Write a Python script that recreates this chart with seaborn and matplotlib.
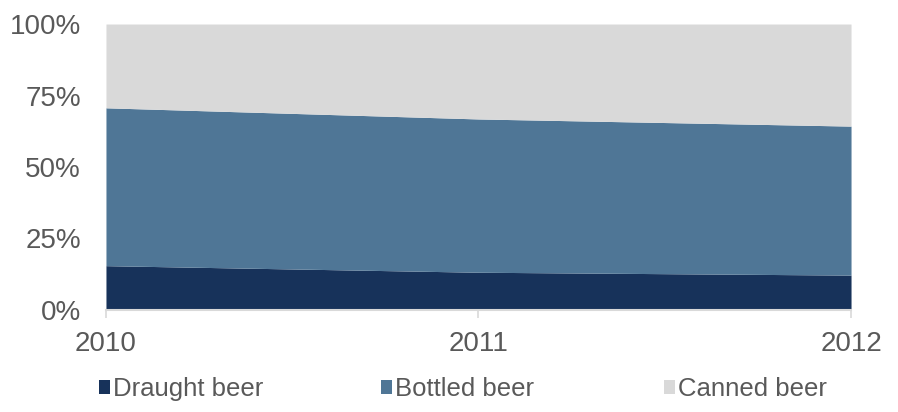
import matplotlib
matplotlib.use("Agg")
import matplotlib.pyplot as plt
import seaborn as sns
import numpy as np
from matplotlib.patches import Patch

years = [2010, 2011, 2012]
series = ["Draught beer", "Bottled beer", "Canned beer"]
draught = [15.5, 13.2, 12.2]
bottled = [55.2, 53.6, 52.1]
canned = [29.3, 33.2, 35.7]
yticks = [0, 25, 50, 75, 100]
ytick_labels = ["0%", "25%", "50%", "75%", "100%"]
colors = ["#17325A", "#4F7696", "#D9D9D9"]

sns.set_style("white")
plt.rcParams['font.family'] = ['Liberation Sans', 'DejaVu Sans']

fig = plt.figure(figsize=(8.98, 4.12), dpi=100)
ax = fig.add_axes([0.118, 0.2476, 0.8297, 0.6941])
ax.stackplot(years, draught, bottled, canned, colors=colors, linewidth=0)
ax.set_xlim(years[0], years[-1])
ax.set_ylim(0, 100)
ax.set_xticks(years)
ax.set_xticklabels([str(y) for y in years])
ax.set_yticks(yticks)
ax.set_yticklabels(ytick_labels)
for s in ["top", "right", "left"]:
    ax.spines[s].set_visible(False)
ax.spines["bottom"].set_color("#D9D9D9")
ax.spines["bottom"].set_linewidth(1.5)
ax.tick_params(axis="x", length=6, width=1.2, color="#D9D9D9", pad=9,
               labelsize=20, labelcolor="#595959", bottom=True)
ax.tick_params(axis="y", length=0, pad=18, labelsize=20, labelcolor="#595959")

legend_x = [0.110, 0.424, 0.739]
for lbl, c, lx in zip(series, colors, legend_x):
    leg = fig.legend([Patch(facecolor=c, edgecolor="none")], [lbl],
                     loc="center left", bbox_to_anchor=(lx, 0.055),
                     frameon=False, fontsize=18.5, handlelength=0.45, handleheight=0.45,
                     handletextpad=0.12, borderpad=0, borderaxespad=0)
    for t in leg.get_texts():
        t.set_color("#595959")

fig.savefig("out.png", dpi=100)
